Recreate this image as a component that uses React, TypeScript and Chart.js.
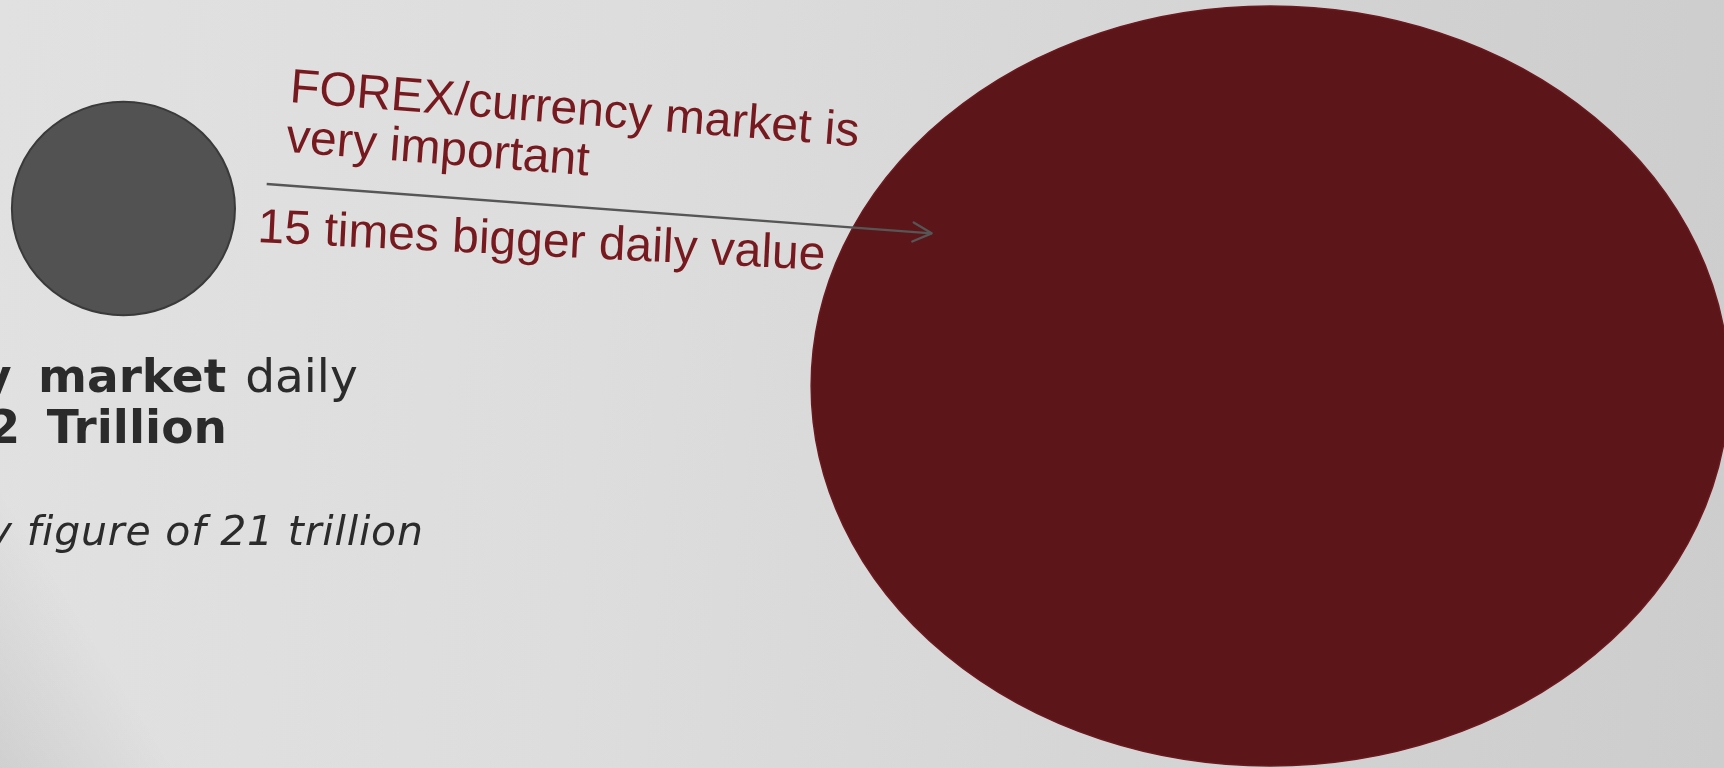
import React, { useEffect, useRef } from "react";
import { Chart, registerables } from "chart.js";

Chart.register(...registerables);

// ---- data (scale units: x 0..100, y 0..100) ----
const markets = ["Equity market", "FOREX/currency market"];
const centerX = [7.16, 73.67];
const centerY = [72.85, 49.74];
const radiusX = [6.47, 26.62];
const radiusY = [13.89, 49.48];

const arrowX = [15.47, 54.04];
const arrowY = [76.04, 69.62];

const bubbleFill = ["#525252", "#5c1519"];
const bubbleStroke = ["#3a3a3a", "#6b1a1f"];
const bubbleStrokeWidth = [2, 1.5];

const ellipsePlugin = {
  id: "ellipseBubbles",
  beforeDatasetsDraw(chart: any) {
    const ctx = chart.ctx;
    const xs = chart.scales.x;
    const ys = chart.scales.y;
    chart.data.datasets.forEach((ds: any, di: number) => {
      if (ds.type !== "bubble") return;
      const meta = chart.getDatasetMeta(di);
      meta.data.forEach((el: any, i: number) => {
        const d = ds.data[i];
        const rx = Math.abs(xs.getPixelForValue(d.x + d.rx) - xs.getPixelForValue(d.x));
        const ry = Math.abs(ys.getPixelForValue(d.y + d.ry) - ys.getPixelForValue(d.y));
        ctx.save();
        ctx.beginPath();
        ctx.ellipse(el.x, el.y, rx, ry, 0, 0, Math.PI * 2);
        ctx.fillStyle = bubbleFill[i];
        ctx.fill();
        ctx.lineWidth = bubbleStrokeWidth[i];
        ctx.strokeStyle = bubbleStroke[i];
        ctx.stroke();
        ctx.restore();
      });
    });
  },
};

const arrowHeadPlugin = {
  id: "arrowHead",
  afterDatasetsDraw(chart: any) {
    const ctx = chart.ctx;
    chart.data.datasets.forEach((ds: any, di: number) => {
      if (ds.type !== "scatter") return;
      const meta = chart.getDatasetMeta(di);
      const n = meta.data.length;
      if (n < 2) return;
      const p0 = meta.data[n - 2];
      const p1 = meta.data[n - 1];
      const ang = Math.atan2(p1.y - p0.y, p1.x - p0.x);
      const len = 21;
      const spread = (27 * Math.PI) / 180;
      ctx.save();
      ctx.strokeStyle = ds.borderColor;
      ctx.lineWidth = ds.borderWidth;
      ctx.lineCap = "round";
      ctx.lineJoin = "round";
      ctx.beginPath();
      ctx.moveTo(p1.x - len * Math.cos(ang - spread), p1.y - len * Math.sin(ang - spread));
      ctx.lineTo(p1.x, p1.y);
      ctx.lineTo(p1.x - len * Math.cos(ang + spread), p1.y - len * Math.sin(ang + spread));
      ctx.stroke();
      ctx.restore();
    });
  },
};

export default function App() {
  const canvasRef = useRef<HTMLCanvasElement | null>(null);

  useEffect(() => {
    if (!canvasRef.current) return;
    const chart = new Chart(canvasRef.current, {
      type: "bubble",
      data: {
        datasets: [
          {
            type: "scatter",
            label: "arrow",
            data: arrowX.map((x, i) => ({ x, y: arrowY[i] })),
            showLine: true,
            borderColor: "#565656",
            borderWidth: 2.3,
            pointRadius: 0,
            pointHoverRadius: 0,
            fill: false,
          } as any,
          {
            type: "bubble",
            label: "markets",
            data: markets.map((m, i) => ({
              x: centerX[i],
              y: centerY[i],
              r: 0,
              rx: radiusX[i],
              ry: radiusY[i],
              name: m,
            })),
            backgroundColor: "rgba(0,0,0,0)",
            borderWidth: 0,
            radius: 0,
            hoverRadius: 0,
          } as any,
        ],
      },
      options: {
        animation: false,
        responsive: false,
        events: [],
        layout: { padding: 0 },
        scales: {
          x: { type: "linear", min: 0, max: 100, display: false },
          y: { type: "linear", min: 0, max: 100, display: false },
        },
        plugins: {
          legend: { display: false },
          tooltip: { enabled: false },
          title: { display: false },
        },
      },
      plugins: [ellipsePlugin, arrowHeadPlugin],
    });
    return () => chart.destroy();
  }, []);

  const red = "#761a1f";
  const dark = "#2b2b2b";

  return (
    <div
      style={{
        position: "fixed",
        left: 0,
        top: 0,
        width: 1724,
        height: 768,
        overflow: "hidden",
        background:
          "linear-gradient(238deg, rgba(0,0,0,0) calc(100% - 150px), rgba(0,0,0,0.075) 100%), linear-gradient(95deg, #e1e1e1 0%, #dddddd 35%, #d7d7d7 60%, #d1d1d1 80%, #cdcdcd 100%)",
      }}
    >
      <canvas
        ref={canvasRef}
        width={1724}
        height={768}
        style={{ position: "absolute", left: 0, top: 0, width: 1724, height: 768 }}
      />
      <div
        style={{
          position: "absolute",
          left: 289,
          top: 61.4,
          font: "48px 'Liberation Sans', Arial, sans-serif",
          lineHeight: "50px",
          color: red,
          whiteSpace: "nowrap",
          transform: "rotate(4.45deg)",
          transformOrigin: "0px 41.6px",
        }}
      >
        FOREX/currency market is
        <br />
        very important
      </div>
      <div
        style={{
          position: "absolute",
          left: 256.8,
          top: 202.4,
          font: "48px 'Liberation Sans', Arial, sans-serif",
          lineHeight: "48px",
          color: red,
          whiteSpace: "nowrap",
          transform: "rotate(2.8deg)",
          transformOrigin: "0px 40.6px",
        }}
      >
        15 times bigger daily value
      </div>
      <div
        style={{
          position: "absolute",
          left: -19,
          top: 352,
          font: "47px 'DejaVu Sans', sans-serif",
          lineHeight: "47px",
          color: dark,
          whiteSpace: "nowrap",
        }}
      >
        <b style={{ wordSpacing: "10px" }}>y market</b>
        <span style={{ wordSpacing: "4px" }}> daily</span>
      </div>
      <div
        style={{
          position: "absolute",
          left: -12.4,
          top: 403,
          font: "bold 47px 'DejaVu Sans', sans-serif",
          lineHeight: "47px",
          color: dark,
          whiteSpace: "nowrap",
          wordSpacing: "10px",
        }}
      >
        2 Trillion
      </div>
      <div
        style={{
          position: "absolute",
          left: -12.2,
          top: 511.3,
          font: "italic 41px 'DejaVu Sans', sans-serif",
          lineHeight: "41px",
          color: dark,
          whiteSpace: "nowrap",
          letterSpacing: "0.8px",
        }}
      >
        y figure of 21 trillion
      </div>
    </div>
  );
}
